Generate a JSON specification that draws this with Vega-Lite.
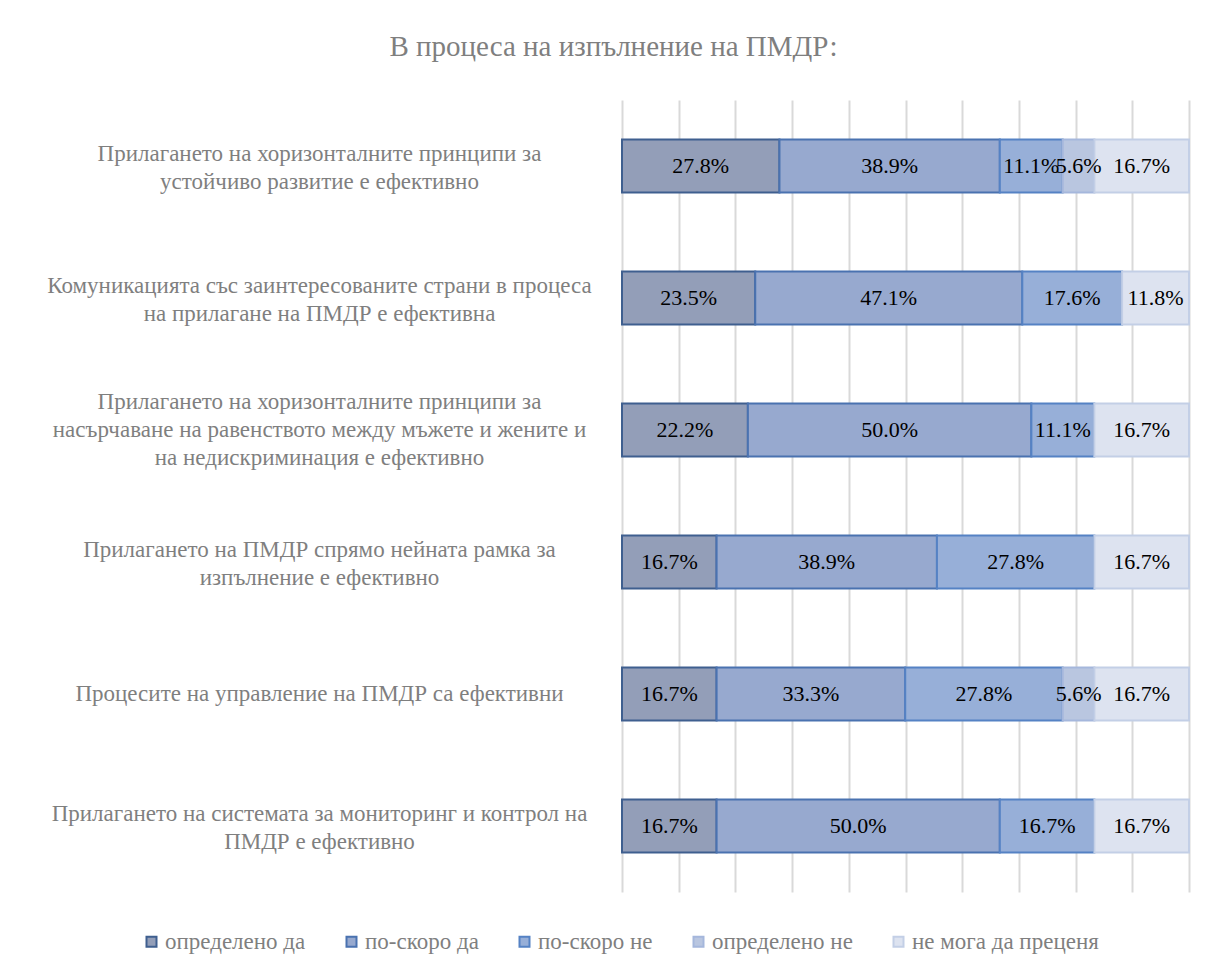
{
  "$schema": "https://vega.github.io/schema/vega-lite/v6.json",
  "width": 567,
  "height": 792,
  "autosize": {"type": "none"},
  "padding": {"left": 622, "top": 100, "right": 19, "bottom": 78},
  "background": "white",
  "config": {"view": {"stroke": null}},
  "title": {
    "text": "В процеса на изпълнение на ПМДР:",
    "font": "'Liberation Serif', 'DejaVu Serif', serif",
    "fontSize": 29,
    "fontWeight": "normal",
    "color": "#7f7f7f",
    "anchor": "middle",
    "dx": -292,
    "offset": 38
  },
  "data": {
    "values": [
      {"q": "Прилагането на хоризонталните принципи за|устойчиво развитие е ефективно", "r": 1, "c": "определено да", "o": 1, "v": 0.278},
      {"q": "Прилагането на хоризонталните принципи за|устойчиво развитие е ефективно", "r": 1, "c": "по-скоро да", "o": 2, "v": 0.389},
      {"q": "Прилагането на хоризонталните принципи за|устойчиво развитие е ефективно", "r": 1, "c": "по-скоро не", "o": 3, "v": 0.111},
      {"q": "Прилагането на хоризонталните принципи за|устойчиво развитие е ефективно", "r": 1, "c": "определено не", "o": 4, "v": 0.056},
      {"q": "Прилагането на хоризонталните принципи за|устойчиво развитие е ефективно", "r": 1, "c": "не мога да преценя", "o": 5, "v": 0.167},
      {"q": "Комуникацията със заинтересованите страни в процеса|на прилагане на ПМДР е ефективна", "r": 2, "c": "определено да", "o": 1, "v": 0.235},
      {"q": "Комуникацията със заинтересованите страни в процеса|на прилагане на ПМДР е ефективна", "r": 2, "c": "по-скоро да", "o": 2, "v": 0.471},
      {"q": "Комуникацията със заинтересованите страни в процеса|на прилагане на ПМДР е ефективна", "r": 2, "c": "по-скоро не", "o": 3, "v": 0.176},
      {"q": "Комуникацията със заинтересованите страни в процеса|на прилагане на ПМДР е ефективна", "r": 2, "c": "не мога да преценя", "o": 5, "v": 0.118},
      {"q": "Прилагането на хоризонталните принципи за|насърчаване на равенството между мъжете и жените и|на недискриминация е ефективно", "r": 3, "c": "определено да", "o": 1, "v": 0.222},
      {"q": "Прилагането на хоризонталните принципи за|насърчаване на равенството между мъжете и жените и|на недискриминация е ефективно", "r": 3, "c": "по-скоро да", "o": 2, "v": 0.5},
      {"q": "Прилагането на хоризонталните принципи за|насърчаване на равенството между мъжете и жените и|на недискриминация е ефективно", "r": 3, "c": "по-скоро не", "o": 3, "v": 0.111},
      {"q": "Прилагането на хоризонталните принципи за|насърчаване на равенството между мъжете и жените и|на недискриминация е ефективно", "r": 3, "c": "не мога да преценя", "o": 5, "v": 0.167},
      {"q": "Прилагането на ПМДР спрямо нейната рамка за|изпълнение е ефективно", "r": 4, "c": "определено да", "o": 1, "v": 0.167},
      {"q": "Прилагането на ПМДР спрямо нейната рамка за|изпълнение е ефективно", "r": 4, "c": "по-скоро да", "o": 2, "v": 0.389},
      {"q": "Прилагането на ПМДР спрямо нейната рамка за|изпълнение е ефективно", "r": 4, "c": "по-скоро не", "o": 3, "v": 0.278},
      {"q": "Прилагането на ПМДР спрямо нейната рамка за|изпълнение е ефективно", "r": 4, "c": "не мога да преценя", "o": 5, "v": 0.167},
      {"q": "Процесите на управление на ПМДР са ефективни", "r": 5, "c": "определено да", "o": 1, "v": 0.167},
      {"q": "Процесите на управление на ПМДР са ефективни", "r": 5, "c": "по-скоро да", "o": 2, "v": 0.333},
      {"q": "Процесите на управление на ПМДР са ефективни", "r": 5, "c": "по-скоро не", "o": 3, "v": 0.278},
      {"q": "Процесите на управление на ПМДР са ефективни", "r": 5, "c": "определено не", "o": 4, "v": 0.056},
      {"q": "Процесите на управление на ПМДР са ефективни", "r": 5, "c": "не мога да преценя", "o": 5, "v": 0.167},
      {"q": "Прилагането на системата за мониторинг и контрол на|ПМДР е ефективно", "r": 6, "c": "определено да", "o": 1, "v": 0.167},
      {"q": "Прилагането на системата за мониторинг и контрол на|ПМДР е ефективно", "r": 6, "c": "по-скоро да", "o": 2, "v": 0.5},
      {"q": "Прилагането на системата за мониторинг и контрол на|ПМДР е ефективно", "r": 6, "c": "по-скоро не", "o": 3, "v": 0.167},
      {"q": "Прилагането на системата за мониторинг и контрол на|ПМДР е ефективно", "r": 6, "c": "не мога да преценя", "o": 5, "v": 0.167}
    ]
  },
  "transform": [
    {"stack": "v", "groupby": ["q"], "sort": [{"field": "o", "order": "ascending"}], "offset": "normalize", "as": ["s0", "s1"]},
    {"calculate": "(datum.s0 + datum.s1) / 2", "as": "m"}
  ],
  "encoding": {
    "y": {
      "field": "q",
      "type": "nominal",
      "sort": {"field": "r", "op": "min", "order": "ascending"},
      "scale": {"paddingInner": 0.6, "paddingOuter": 0.3},
      "axis": {
        "title": null,
        "domain": false,
        "ticks": false,
        "grid": false,
        "labelExpr": "split(datum.label, '|')",
        "labelAlign": "center",
        "labelBaseline": "middle",
        "labelPadding": 303,
        "labelFont": "'Liberation Serif', 'DejaVu Serif', serif",
        "labelFontSize": 23,
        "labelColor": "#7f7f7f",
        "labelLineHeight": 28,
        "labelLimit": 0,
        "labelOffset": {
          "condition": [
            {"test": "length(split(datum.value, '|')) == 3", "value": -28},
            {"test": "length(split(datum.value, '|')) == 2", "value": -12}
          ],
          "value": 0
        }
      }
    }
  },
  "layer": [
    {
      "mark": {"type": "bar", "strokeWidth": 2},
      "encoding": {
        "x": {
          "field": "s0",
          "type": "quantitative",
          "scale": {"domain": [0, 1], "nice": false},
          "axis": {
            "title": null,
            "values": [0, 0.1, 0.2, 0.3, 0.4, 0.5, 0.6, 0.7, 0.8, 0.9, 1],
            "labels": false,
            "ticks": false,
            "domain": false,
            "grid": true,
            "gridColor": "#d9d9d9",
            "gridWidth": 2
          }
        },
        "x2": {"field": "s1"},
        "fill": {
          "field": "c",
          "type": "nominal",
          "scale": {
            "domain": ["определено да", "по-скоро да", "по-скоро не", "определено не", "не мога да преценя"],
            "range": ["#939eb8", "#97a9cf", "#97afd8", "#b9c6e0", "#dde3f0"]
          },
          "legend": {
            "title": null,
            "orient": "none",
            "legendX": -482,
            "legendY": 830,
            "direction": "horizontal",
            "symbolType": "square",
            "symbolSize": 100,
            "symbolStrokeWidth": 2,
            "labelFont": "'Liberation Serif', 'DejaVu Serif', serif",
            "labelFontSize": 23,
            "labelColor": "#7f7f7f",
            "labelOffset": 2,
            "labelLimit": 0,
            "columnPadding": 34
          }
        },
        "stroke": {
          "field": "c",
          "type": "nominal",
          "scale": {
            "domain": ["определено да", "по-скоро да", "по-скоро не", "определено не", "не мога да преценя"],
            "range": ["#3f5f8f", "#4a72b0", "#5582c4", "#a5b7dc", "#c3cfe6"]
          }
        }
      }
    },
    {
      "mark": {"type": "text", "font": "'Liberation Serif', 'DejaVu Serif', serif", "fontSize": 22, "color": "black"},
      "encoding": {
        "x": {"field": "m", "type": "quantitative"},
        "text": {"field": "v", "type": "quantitative", "format": ".1%"}
      }
    }
  ]
}
